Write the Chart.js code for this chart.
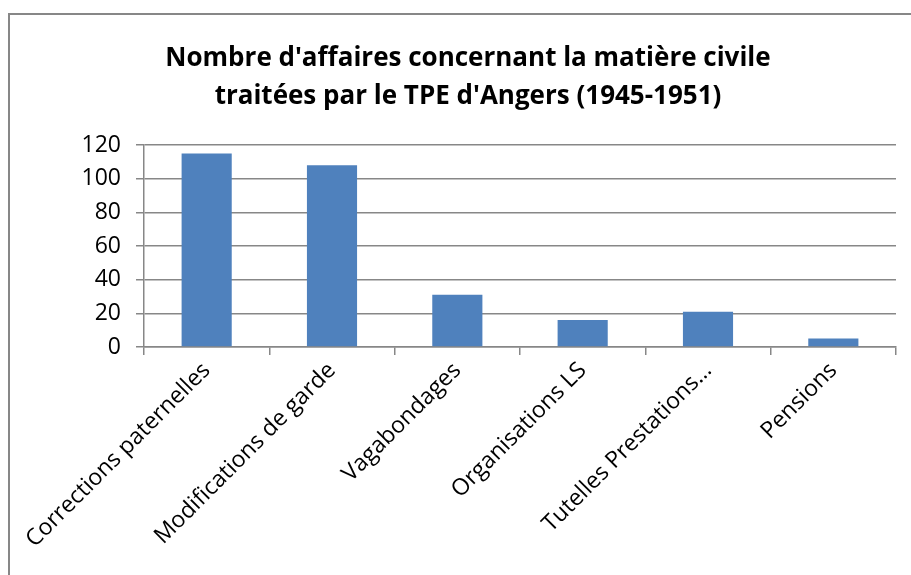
<!DOCTYPE html>
<html>
<head>
<meta charset="utf-8">
<script src="https://cdn.jsdelivr.net/npm/chart.js@4"></script>
<style>
  html, body { margin: 0; padding: 0; background: #fff; overflow: hidden; width: 911px; height: 575px; }
  #box { position: absolute; left: 8px; top: 13px; width: 916px; height: 570px; border-left: 2px solid #878787; border-top: 2px solid #878787; background: #fff; }
  #c { position: absolute; left: 0; top: 0; }
</style>
</head>
<body>
<div id="box"><canvas id="c" width="916" height="560"></canvas></div>
<script>
const titleLines = ["Nombre d'affaires concernant la matière civile", "traitées par le TPE d'Angers (1945-1951)"];
const categories = ["Corrections paternelles", "Modifications de garde", "Vagabondages", "Organisations LS", "Tutelles Prestations…", "Pensions"];
const counts = [115, 108, 31, 16, 21, 5];
const yTicks = [0, 20, 40, 60, 80, 100, 120];

const gray = '#878787';
const fontFamily = "'Open Sans', 'DejaVu Sans', sans-serif";

new Chart(document.getElementById('c'), {
  type: 'bar',
  data: {
    labels: categories,
    datasets: [{
      data: counts,
      backgroundColor: '#4F81BD',
      borderWidth: 0,
      categoryPercentage: 1.0,
      barPercentage: 0.4
    }]
  },
  options: {
    responsive: false,
    animation: false,
    layout: { padding: { left: 30, right: 30, top: 0, bottom: 0 } },
    plugins: {
      legend: { display: false },
      tooltip: { enabled: false },
      title: {
        display: true,
        text: titleLines,
        color: '#000',
        font: { family: fontFamily, size: 26, weight: 'bold', lineHeight: '38px' },
        padding: { top: 25, bottom: 29 }
      }
    },
    scales: {
      x: {
        grid: { display: true, drawOnChartArea: false, drawTicks: true, tickLength: 8, color: gray, lineWidth: 1.5, offset: true },
        border: { display: true, color: gray, width: 1.5 },
        ticks: {
          color: '#000',
          font: { family: fontFamily, size: 23 },
          maxRotation: 45, minRotation: 45,
          autoSkip: false,
          padding: 2
        },
        afterFit: (scale) => { scale.height = 228; }
      },
      y: {
        min: 0, max: 120,
        afterBuildTicks: (scale) => { scale.ticks = yTicks.map(v => ({ value: v })); },
        grid: { color: gray, lineWidth: 1.5, tickLength: 8 },
        border: { display: true, color: gray, width: 1.5 },
        ticks: {
          color: '#000',
          font: { family: fontFamily, size: 23 },
          padding: 15
        },
        afterFit: (scale) => { scale.width = 104; }
      }
    }
  }
});
</script>
</body>
</html>
